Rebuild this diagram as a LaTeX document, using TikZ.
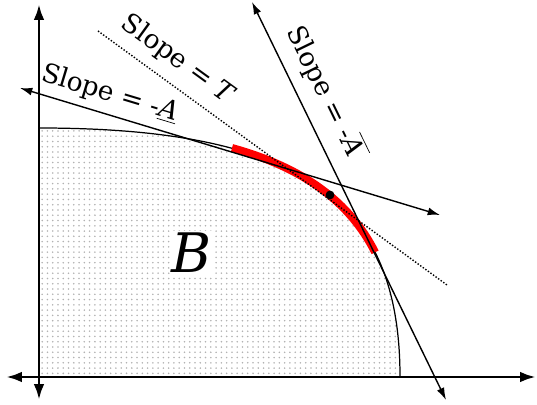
\documentclass[tikz,border=0pt]{standalone}
\usepackage{fontspec}
\setmainfont{DejaVu Serif}
\newfontfamily\bigserif{DejaVu Serif}
\usetikzlibrary{arrows.meta,patterns}

\tikzset{
  axis/.style={line width=1.7pt,{Latex[length=9pt,width=6pt]}-{Latex[length=9pt,width=6pt]}},
  slopeline/.style={line width=0.8pt,{Latex[length=7pt,width=4.5pt]}-{Latex[length=7pt,width=4.5pt]}},
  slopelabel/.style={font=\rmfamily\fontsize{15}{18}\selectfont,inner sep=1pt}
}

\begin{document}
\begin{tikzpicture}[x=0.02cm,y=-0.02cm]
  \useasboundingbox (0,0) rectangle (537,405);

  % the set B
  \fill[pattern=dots,pattern color=black!30] (39,377) -- (39,128) .. controls (300,128) and (400,200) .. (400,377) -- cycle;
  \draw[line width=0.7pt] (39,128) .. controls (300,128) and (400,200) .. (400,377);
  \node[fill=white,inner sep=1pt,font=\bigserif\itshape\fontsize{31}{36}\selectfont] (B) at (192,253) {B};

  % red piece of the frontier
  \draw[red,line width=4.5pt] (232,148) .. controls (303.4,167.7) and (349.6,201.6) .. (375.1,252.3);

  % axes
  \coordinate (Yb) at (39,400);
  \coordinate (Yt) at (39,4);
  \coordinate (Xl) at (6,377);
  \coordinate (Xr) at (536,377);
  \draw[axis] (Yb) -- (Yt);
  \draw[axis] (Xl) -- (Xr);

  % slope lines
  \coordinate (Aw) at (20,88);
  \coordinate (Ae) at (440,215);
  \draw[slopeline] (Aw) -- (Ae);
  \coordinate (Tw) at (98,31);
  \coordinate (Te) at (447,285);
  \draw[line width=0.8pt,densely dotted] (Tw) -- (Te);
  \coordinate (Cn) at (252,2);
  \coordinate (Cs) at (446,400);
  \draw[slopeline] (Cn) -- (Cs);

  % the point
  \node[circle,fill,inner sep=0pt,minimum size=5pt] (P) at (330,195) {};

  % labels
  \node[slopelabel,rotate=-16.8] (labA) at (110,94) {Slope = -\underline{\textit{A}}};
  \node[slopelabel,rotate=-36] (labT) at (178,60) {Slope = \textit{T}};
  \node[slopelabel,rotate=-64] (labAbar) at (326,93) {Slope = -$\overline{\mbox{\textit{A}}\,}$};
\end{tikzpicture}
\end{document}
